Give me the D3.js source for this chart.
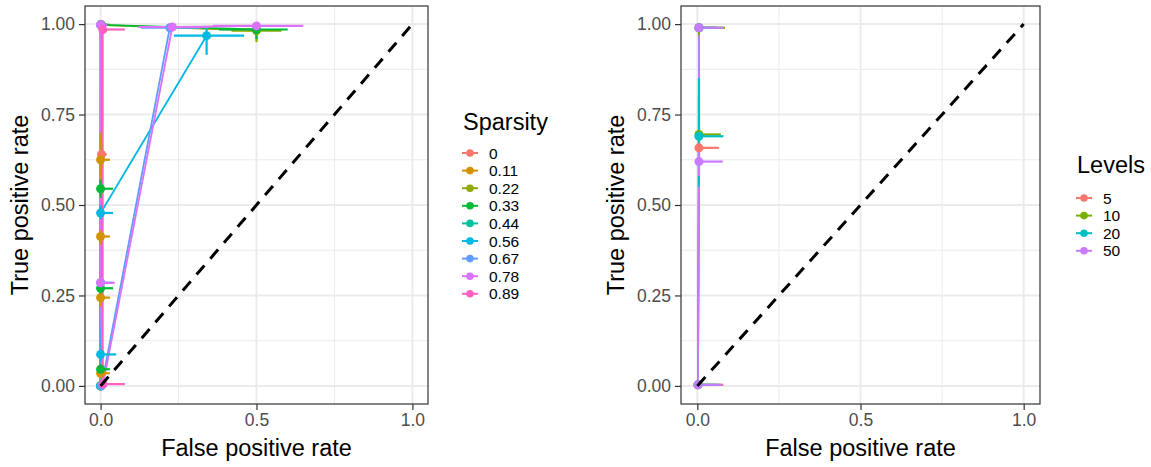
<!DOCTYPE html>
<html><head><meta charset="utf-8">
<script src="https://cdn.jsdelivr.net/npm/d3@7"></script>
<style>body{margin:0;background:#fff;} text{font-family:"Liberation Sans",Arial,Helvetica,sans-serif;}</style>
</head><body><svg id="c" width="1151" height="467"></svg>
<script>
// ---------- Left panel: Sparsity ----------
const sparsityLevels = ["0","0.11","0.22","0.33","0.44","0.56","0.67","0.78","0.89"];
const sparsityColors = ["#F8766D","#D39200","#93AA00","#00BA38","#00C19F","#00B9E3","#619CFF","#DB72FB","#FF61C3"];
const spFpr = [
  [0, 0.003, 0.003],
  [0, 0, 0, 0, 0, 0.002],
  [0, 0, 0.5],
  [0, 0, 0, 0, 0, 0.5],
  [0, 0.002],
  [0, 0, 0, 0.34],
  [0, 0, 0.003, 0.222],
  [0, 0, 0.008, 0.23, 0.5],
  [0.007, 0.007]
];
const spTpr = [
  [0, 0.64, 0.998],
  [0, 0.035, 0.244, 0.413, 0.625, 0.998],
  [0, 0.998, 0.982],
  [0, 0.046, 0.27, 0.545, 0.998, 0.985],
  [0, 0.998],
  [0, 0.087, 0.478, 0.968],
  [0.998, 0.285, 0.0, 0.99],
  [0.998, 0.285, 0.005, 0.992, 0.995],
  [0.005, 0.985]
];
const spFprMin = [
  [0, 0, 0],
  [0, 0, 0, 0, 0, 0],
  [0, 0, 0.42],
  [0, 0, 0, 0, 0, 0.38],
  [0, 0],
  [0, 0, 0, 0.235],
  [0, 0, 0, 0.13],
  [0, 0, 0, 0.12, 0.36],
  [0, 0]
];
const spFprMax = [
  [0.01, 0.02, 0.02],
  [0.01, 0.03, 0.03, 0.03, 0.03, 0.02],
  [0.01, 0.02, 0.58],
  [0.01, 0.03, 0.04, 0.04, 0.03, 0.6],
  [0.01, 0.02],
  [0.01, 0.05, 0.04, 0.46],
  [0.02, 0.04, 0.01, 0.32],
  [0.02, 0.045, 0.02, 0.35, 0.65],
  [0.078, 0.078]
];
const spTprMin = [
  [0, 0.6, 0.99],
  [0, 0.02, 0.22, 0.39, 0.55, 0.99],
  [0, 0.99, 0.95],
  [0, 0.03, 0.25, 0.52, 0.99, 0.958],
  [0, 0.99],
  [0, 0.07, 0.46, 0.915],
  [0.99, 0.27, 0, 0.98],
  [0.99, 0.27, 0, 0.985, 0.99],
  [0, 0.975]
];
const spTprMax = [
  [0.01, 0.68, 1],
  [0.01, 0.05, 0.26, 0.43, 0.70, 1],
  [0.01, 1, 1],
  [0.01, 0.06, 0.29, 0.57, 1, 1],
  [0.01, 1],
  [0.01, 0.1, 0.5, 0.99],
  [1, 0.3, 0.01, 1],
  [1, 0.3, 0.01, 1, 1],
  [0.01, 0.995]
];

// ---------- Right panel: Levels ----------
const levelNames = ["5","10","20","50"];
const levelColors = ["#F8766D","#7CAE00","#00BFC4","#C77CFF"];
const lvFpr = [
  [0.002, 0.005, 0.005],
  [0.002, 0.005, 0.005],
  [0.002, 0.005, 0.005],
  [0.002, 0.005, 0.005]
];
const lvTpr = [
  [0.003, 0.658, 0.99],
  [0.003, 0.695, 0.99],
  [0.003, 0.69, 0.99],
  [0.003, 0.62, 0.99]
];
const lvFprMin = [
  [0, 0, 0], [0, 0, 0], [0, 0, 0], [0, 0, 0]
];
const lvFprMax = [
  [0.08, 0.066, 0.06],
  [0.07, 0.072, 0.085],
  [0.06, 0.08, 0.06],
  [0.075, 0.078, 0.08]
];
const lvTprMin = [
  [0, 0.62, 0.98],
  [0, 0.6, 0.97],
  [0, 0.55, 0.98],
  [0, 0.58, 0.98]
];
const lvTprMax = [
  [0.01, 0.7, 1],
  [0.01, 0.8, 1],
  [0.01, 0.85, 1],
  [0.01, 0.66, 1]
];

const xTicks = [0, 0.5, 1];
const yTicks = [0, 0.25, 0.5, 0.75, 1];
const xMinor = [0.25, 0.75];
const yMinor = [0.125, 0.375, 0.625, 0.875];

const svg = d3.select("#c");

function panel(id, left, right, top, bottom, names, colors, F, T, FMin, FMax, TMin, TMax, legend) {
  const x = d3.scaleLinear().domain([-0.05, 1.05]).range([left, right]);
  const y = d3.scaleLinear().domain([-0.05, 1.05]).range([bottom, top]);
  const g = svg.append("g");
  g.append("rect").attr("x", left).attr("y", top).attr("width", right - left).attr("height", bottom - top).attr("fill", "#fff");
  g.selectAll(".xmin").data(xMinor).join("line").attr("x1", d => x(d)).attr("x2", d => x(d)).attr("y1", top).attr("y2", bottom).attr("stroke", "#EBEBEB").attr("stroke-width", 1);
  g.selectAll(".ymin").data(yMinor).join("line").attr("y1", d => y(d)).attr("y2", d => y(d)).attr("x1", left).attr("x2", right).attr("stroke", "#EBEBEB").attr("stroke-width", 1);
  g.selectAll(".xmaj").data(xTicks).join("line").attr("x1", d => x(d)).attr("x2", d => x(d)).attr("y1", top).attr("y2", bottom).attr("stroke", "#EBEBEB").attr("stroke-width", 2);
  g.selectAll(".ymaj").data(yTicks).join("line").attr("y1", d => y(d)).attr("y2", d => y(d)).attr("x1", left).attr("x2", right).attr("stroke", "#EBEBEB").attr("stroke-width", 2);

  const clipId = "clip" + id;
  svg.append("clipPath").attr("id", clipId).append("rect").attr("x", left).attr("y", top).attr("width", right - left).attr("height", bottom - top);
  const pg = g.append("g").attr("clip-path", `url(#${clipId})`);

  const series = names.map((n, i) => ({
    name: n, color: colors[i],
    pts: F[i].map((f, j) => ({ f, t: T[i][j], f0: FMin[i][j], f1: FMax[i][j], t0: TMin[i][j], t1: TMax[i][j] }))
  }));
  const line = d3.line().x(d => x(d.f)).y(d => y(d.t));
  series.forEach(s => {
    pg.append("path").attr("d", line(s.pts)).attr("fill", "none").attr("stroke", s.color).attr("stroke-width", 1.8);
  });
  series.forEach(s => {
    s.pts.forEach(p => {
      pg.append("line").attr("x1", x(p.f0)).attr("x2", x(p.f1)).attr("y1", y(p.t)).attr("y2", y(p.t)).attr("stroke", s.color).attr("stroke-width", 2.2);
      pg.append("line").attr("x1", x(p.f)).attr("x2", x(p.f)).attr("y1", y(p.t0)).attr("y2", y(p.t1)).attr("stroke", s.color).attr("stroke-width", 2.2);
    });
  });
  series.forEach(s => {
    pg.selectAll(null).data(s.pts).join("circle").attr("cx", d => x(d.f)).attr("cy", d => y(d.t)).attr("r", 4.5).attr("fill", s.color);
  });
  pg.append("line").attr("x1", x(0)).attr("y1", y(0)).attr("x2", x(1)).attr("y2", y(1))
    .attr("stroke", "#000").attr("stroke-width", 3).attr("stroke-dasharray", "12,9");

  g.append("rect").attr("x", left).attr("y", top).attr("width", right - left).attr("height", bottom - top)
    .attr("fill", "none").attr("stroke", "#333333").attr("stroke-width", 1.2);

  const xa = g.append("g").attr("transform", `translate(0,${bottom})`)
    .call(d3.axisBottom(x).tickValues(xTicks).tickFormat(d3.format(".1f")).tickSize(6).tickPadding(4));
  const ya = g.append("g").attr("transform", `translate(${left},0)`)
    .call(d3.axisLeft(y).tickValues(yTicks).tickFormat(d3.format(".2f")).tickSize(6).tickPadding(4));
  [xa, ya].forEach(a => {
    a.select(".domain").remove();
    a.selectAll(".tick line").attr("stroke", "#333333").attr("stroke-width", 1.2);
    a.selectAll(".tick text").attr("fill", "#4D4D4D").style("font-size", "17.5px").style("font-family", "'Liberation Sans',Arial,sans-serif");
  });

  g.append("text").attr("x", (left + right) / 2).attr("y", 456).attr("text-anchor", "middle")
    .style("font-size", "23.5px").attr("fill", "#000").text("False positive rate");
  g.append("text").attr("transform", `translate(${left - 57},${(top + bottom) / 2}) rotate(-90)`)
    .attr("text-anchor", "middle").style("font-size", "23.5px").attr("fill", "#000").text("True positive rate");

  const lg = g.append("g");
  lg.append("text").attr("x", legend.x).attr("y", legend.titleY).style("font-size", "23.5px").attr("fill", "#000").text(legend.title);
  names.forEach((n, i) => {
    const cy = legend.y0 + i * legend.step;
    lg.append("line").attr("x1", legend.x - 1).attr("x2", legend.x + 15).attr("y1", cy).attr("y2", cy).attr("stroke", colors[i]).attr("stroke-width", 2);
    lg.append("circle").attr("cx", legend.x + 7).attr("cy", cy).attr("r", 3.8).attr("fill", colors[i]);
    lg.append("text").attr("x", legend.x + 26).attr("y", cy).attr("dy", "0.36em").style("font-size", "15.5px").attr("fill", "#000").text(n);
  });
}

panel("L", 85, 428, 6, 404, sparsityLevels, sparsityColors, spFpr, spTpr, spFprMin, spFprMax, spTprMin, spTprMax,
  { title: "Sparsity", x: 463, titleY: 130, y0: 153, step: 17.6 });
panel("R", 681, 1040, 6, 404, levelNames, levelColors, lvFpr, lvTpr, lvFprMin, lvFprMax, lvTprMin, lvTprMax,
  { title: "Levels", x: 1077, titleY: 173, y0: 198, step: 17.6 });
</script></body></html>
